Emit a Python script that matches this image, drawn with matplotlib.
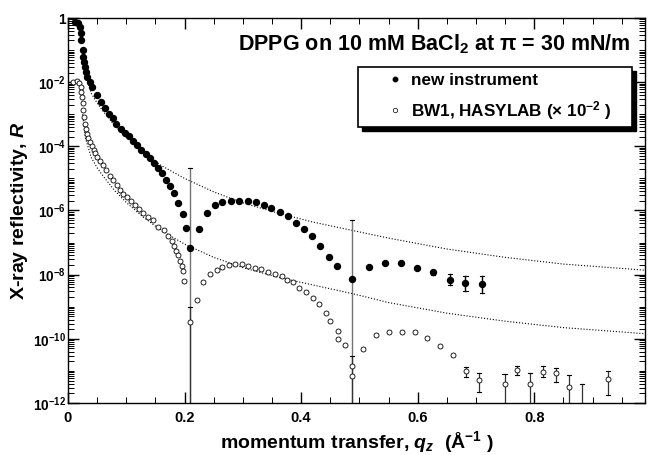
import numpy as np
import matplotlib.pyplot as plt
from matplotlib.ticker import FixedLocator, FixedFormatter, MultipleLocator, LogLocator, NullFormatter
from matplotlib.lines import Line2D
from matplotlib.patches import Rectangle

plt.rcParams['font.family'] = ['Liberation Sans', 'DejaVu Sans']
plt.rcParams['font.weight'] = 'bold'
plt.rcParams['mathtext.fontset'] = 'custom'
plt.rcParams['mathtext.rm'] = 'Liberation Sans:bold'
plt.rcParams['mathtext.bf'] = 'Liberation Sans:bold'
plt.rcParams['mathtext.it'] = 'Liberation Sans:italic:bold'

# new instrument (filled), log10 R
new_q = [0.012, 0.018, 0.021, 0.022, 0.023, 0.025, 0.026, 0.027, 0.029, 0.031, 0.033, 0.037,
         0.041, 0.049, 0.056, 0.063, 0.070, 0.077, 0.083, 0.091, 0.098, 0.105, 0.112, 0.119,
         0.126, 0.134, 0.141, 0.148, 0.155, 0.161, 0.168, 0.175, 0.182, 0.189, 0.197, 0.202,
         0.210, 0.225, 0.238, 0.252, 0.265, 0.280, 0.294, 0.308, 0.322, 0.336, 0.349, 0.364,
         0.377, 0.391, 0.405, 0.419, 0.433, 0.448, 0.461, 0.488, 0.516, 0.544, 0.571, 0.599,
         0.627, 0.655, 0.682, 0.710]
new_logR = [-0.12, -0.17, -0.27, -0.48, -0.69, -1.00, -1.21, -1.36, -1.52, -1.68, -1.83, -1.99,
            -2.15, -2.41, -2.61, -2.80, -2.98, -3.13, -3.29, -3.45, -3.58, -3.69, -3.84, -3.97,
            -4.10, -4.23, -4.37, -4.52, -4.67, -4.83, -5.04, -5.25, -5.46, -5.77, -6.10, -6.53,
            -7.18, -6.57, -6.07, -5.84, -5.72, -5.69, -5.69, -5.71, -5.75, -5.82, -5.92, -6.05,
            -6.16, -6.38, -6.59, -6.81, -7.12, -7.46, -7.72, -8.12, -7.77, -7.65, -7.63, -7.79,
            -7.93, -8.16, -8.25, -8.29]
new_err_q = [0.210, 0.488, 0.627, 0.655, 0.682, 0.710]
new_err_hi = [-4.66, -6.31, -7.85, -7.98, -8.05, -8.05]
new_err_lo = [-12.5, -12.5, -8.02, -8.33, -8.50, -8.56]

# BW1, HASYLAB (x 1e-2), open
bw_q = [0.009, 0.015, 0.019, 0.022, 0.023, 0.024, 0.025, 0.026, 0.027, 0.029, 0.031, 0.033,
        0.035, 0.038, 0.041, 0.044, 0.046, 0.050, 0.055, 0.060, 0.066, 0.072, 0.078, 0.084,
        0.089, 0.095, 0.101, 0.108, 0.115, 0.122, 0.129, 0.137, 0.146, 0.155, 0.164, 0.171,
        0.178, 0.182, 0.186, 0.189, 0.192, 0.195, 0.198, 0.199, 0.210, 0.222, 0.232, 0.244,
        0.255, 0.265, 0.277, 0.286, 0.298, 0.309, 0.321, 0.332, 0.344, 0.355, 0.367, 0.376,
        0.386, 0.397, 0.408, 0.420, 0.431, 0.443, 0.449, 0.464, 0.464, 0.475, 0.487, 0.487,
        0.507, 0.529, 0.551, 0.573, 0.595, 0.616, 0.638, 0.661, 0.683, 0.705, 0.749, 0.771,
        0.793, 0.815, 0.837, 0.859, 0.927]
bw_logR = [-1.99, -1.97, -2.02, -2.14, -2.30, -2.45, -2.66, -2.87, -3.08, -3.29, -3.45, -3.60,
           -3.73, -3.86, -4.00, -4.12, -4.22, -4.33, -4.47, -4.59, -4.75, -4.91, -5.06, -5.22,
           -5.35, -5.48, -5.59, -5.69, -5.82, -5.95, -6.08, -6.20, -6.31, -6.50, -6.62, -6.80,
           -6.94, -7.10, -7.25, -7.40, -7.56, -7.72, -7.88, -8.19, -9.49, -8.78, -8.24, -7.98,
           -7.85, -7.77, -7.69, -7.67, -7.67, -7.72, -7.80, -7.82, -7.93, -7.98, -8.03, -8.16,
           -8.24, -8.40, -8.55, -8.73, -8.90, -9.18, -9.44, -9.75, -10.01, -10.19, -10.84, -11.16,
           -10.32, -9.88, -9.80, -9.78, -9.80, -9.98, -10.22, -10.50, -11.00, -11.28, -11.42, -10.97,
           -11.42, -11.02, -11.08, -11.49, -11.24]
bw_err_q = [0.210, 0.487, 0.683, 0.705, 0.749, 0.771, 0.793, 0.815, 0.837, 0.859, 0.882, 0.927]
bw_err_hi = [-9.00, -10.55, -10.88, -11.07, -11.10, -10.84, -11.07, -10.85, -10.90, -11.13, -11.40, -10.99]
bw_err_lo = [-12.5, -12.5, -11.20, -11.65, -12.5, -11.12, -12.5, -11.19, -11.34, -12.5, -12.5, -11.75]

# dotted reference curves
fr_q = [0.025, 0.03, 0.04, 0.05, 0.06, 0.08, 0.10, 0.13, 0.16, 0.20, 0.25, 0.30, 0.36,
        0.42, 0.49, 0.55, 0.65, 0.75, 0.85, 0.99]
fr_new = [-1.00, -1.75, -2.35, -2.65, -2.90, -3.35, -3.72, -4.20, -4.60, -5.00, -5.42, -5.76,
          -6.08, -6.36, -6.63, -6.86, -7.20, -7.46, -7.67, -7.86]
fr_bw = [-3.00, -3.75, -4.35, -4.67, -4.92, -5.38, -5.75, -6.22, -6.62, -7.05, -7.46, -7.78,
         -8.08, -8.32, -8.60, -8.87, -9.20, -9.45, -9.65, -9.84]

ytick_vals = [1, 1e-2, 1e-4, 1e-6, 1e-8, 1e-10, 1e-12]
ytick_text = ['1', '$10^{-2}$', '$10^{-4}$', '$10^{-6}$', '$10^{-8}$', '$10^{-10}$', '$10^{-12}$']
xtick_vals = [0, 0.2, 0.4, 0.6, 0.8]
xtick_text = ['0', '0.2', '0.4', '0.6', '0.8']


def pw(a):
    return 10.0 ** np.array(a)


fig = plt.figure(figsize=(6.5, 4.55), dpi=100)
ax = fig.add_axes([68/650, 52/455, 577/650, 385/455])
ax.set_yscale('log')

ax.plot(fr_q, pw(fr_new), ':', color='k', lw=0.8)
ax.plot(fr_q, pw(fr_bw), ':', color='k', lw=0.8)

# error bars
cw = 0.0035
for q, lo, hi in zip(new_err_q, new_err_lo, new_err_hi):
    long = (hi - lo) > 2
    clr = '0.45' if long else 'k'
    ax.plot([q, q], [10**lo, 10**hi], '-', color=clr, lw=1.0, zorder=2)
    ax.plot([q - cw, q + cw], [10**hi, 10**hi], '-', color='k', lw=0.8, zorder=2)
    if not long:
        ax.plot([q - cw, q + cw], [10**lo, 10**lo], '-', color='k', lw=0.8, zorder=2)
for q, lo, hi in zip(bw_err_q, bw_err_lo, bw_err_hi):
    ax.plot([q, q], [10**lo, 10**hi], '-', color='0.2', lw=0.9, zorder=2)
    ax.plot([q - cw, q + cw], [10**hi, 10**hi], '-', color='k', lw=0.8, zorder=2)
    if lo > -12:
        ax.plot([q - cw, q + cw], [10**lo, 10**lo], '-', color='k', lw=0.8, zorder=2)

ax.plot(bw_q, pw(bw_logR), 'o', ms=3.6, mfc='white', mec='k', mew=0.6, zorder=3)
ax.plot(new_q, pw(new_logR), 'o', ms=4.3, mfc='k', mec='k', zorder=4)

ax.set_xlim(0, 0.99)
ax.set_ylim(1e-12, 1)

ax.yaxis.set_major_locator(FixedLocator(ytick_vals))
ax.yaxis.set_major_formatter(FixedFormatter(ytick_text))
ax.yaxis.set_minor_locator(LogLocator(base=10, subs=np.arange(1, 10), numticks=30))
ax.yaxis.set_minor_formatter(NullFormatter())
ax.xaxis.set_major_locator(FixedLocator(xtick_vals))
ax.xaxis.set_major_formatter(FixedFormatter(xtick_text))
ax.xaxis.set_minor_locator(MultipleLocator(0.05))

ax.tick_params(which='both', direction='in', top=True, right=True)
ax.tick_params(which='major', length=8, width=1)
ax.tick_params(which='minor', length=4, width=0.7)
ax.tick_params(axis='x', labelsize=10.5, pad=6)
ax.tick_params(axis='y', labelsize=9.8, pad=1.5)
for s in ax.spines.values():
    s.set_linewidth(1.0)

ax.set_xlabel('momentum transfer, $q_z$  (Å$^{-1}$ )', fontsize=14, fontweight='bold', labelpad=3)
ax.set_ylabel('X-ray reflectivity, $R$', fontsize=14, fontweight='bold', labelpad=2)

ax.text(0.974, 0.917, 'DPPG on 10 mM BaCl$_2$ at π = 30 mN/m', transform=ax.transAxes,
        ha='right', va='baseline', fontsize=15.5, fontweight='bold')

# legend box with a solid drop shadow
bx0, by0, bw_, bh_ = 0.5026, 0.7169, 0.4749, 0.1558
ax.add_patch(Rectangle((bx0 + 4/577, by0 - 4/385), bw_, bh_, transform=ax.transAxes,
                       facecolor='k', edgecolor='k', zorder=5, clip_on=False))
ax.add_patch(Rectangle((bx0, by0), bw_, bh_, transform=ax.transAxes,
                       facecolor='white', edgecolor='k', lw=1.2, zorder=6, clip_on=False))

h1 = Line2D([], [], ls='none', marker='o', ms=3.2, mfc='k', mec='k')
h2 = Line2D([], [], ls='none', marker='o', ms=3.2, mfc='white', mec='k', mew=0.5)
leg = ax.legend([h1, h2], ['new instrument', 'BW1, HASYLAB (× 10$^{-2}$ )'],
                loc='upper left', bbox_to_anchor=(0.552, 0.857), fontsize=12.3,
                frameon=False, borderpad=0, handletextpad=0.44,
                handlelength=1.0, labelspacing=0.62, borderaxespad=0)
leg.set_zorder(7)
for t in leg.get_texts():
    t.set_fontweight('bold')

fig.savefig('out.png', dpi=100)
